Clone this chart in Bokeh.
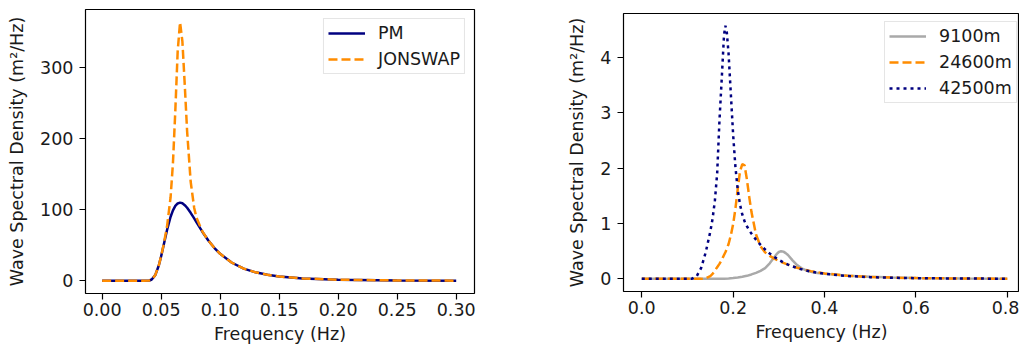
from bokeh.plotting import figure
from bokeh.layouts import row, column
from bokeh.models import Range1d, FixedTicker, PrintfTickFormatter
from bokeh.embed import file_html
from bokeh.resources import INLINE

# ---------------- data ----------------
# Left panel: PM vs JONSWAP spectra
freq_left = [0.0, 0.01, 0.02, 0.03, 0.035, 0.04, 0.042, 0.045, 0.048, 0.05,
             0.052, 0.055, 0.058, 0.06, 0.062, 0.064, 0.066, 0.068, 0.07, 0.072,
             0.075, 0.078, 0.08, 0.085, 0.09, 0.095, 0.1, 0.11, 0.12, 0.13,
             0.14, 0.15, 0.17, 0.2, 0.25, 0.3]
pm_psd = [0, 0, 0, 0, 0, 0.4, 1.8, 8.0, 21.6, 34.6,
          49.3, 71.5, 90.1, 99.2, 105.4, 108.9, 110.0, 109.1, 106.5, 102.8,
          95.7, 87.8, 82.2, 68.8, 56.7, 46.4, 37.9, 25.4, 17.2, 11.9,
          8.4, 6.0, 3.3, 1.5, 0.5, 0.2]
jonswap_psd = [0, 0, 0, 0, 0, 0.4, 1.8, 8.0, 21.6, 34.7,
               49.9, 76.7, 117.6, 165.8, 239.5, 323.0, 364.0, 337.0, 275.9, 210.5,
               139.8, 102.5, 88.5, 69.3, 56.7, 46.4, 37.9, 25.4, 17.2, 11.9,
               8.4, 6.0, 3.3, 1.5, 0.5, 0.2]
left_labels = ["PM", "JONSWAP"]
left_xticks = [0.0, 0.05, 0.10, 0.15, 0.20, 0.25, 0.30]
left_yticks = [0, 100, 200, 300]

# Right panel: fetch-limited JONSWAP spectra
fetch_labels = ["9100m", "24600m", "42500m"]
freq_9100 = [0.0, 0.05, 0.10, 0.15, 0.16, 0.17, 0.18, 0.19, 0.20, 0.21,
             0.22, 0.23, 0.24, 0.25, 0.26, 0.27, 0.28, 0.29, 0.295, 0.30,
             0.305, 0.31, 0.315, 0.32, 0.33, 0.34, 0.35, 0.36, 0.37, 0.38,
             0.40, 0.45, 0.50, 0.55, 0.60, 0.70, 0.80]
psd_9100 = [0, 0, 0, 0, 0, 0.001, 0.003, 0.007, 0.014, 0.024,
            0.037, 0.055, 0.080, 0.108, 0.145, 0.195, 0.280, 0.390, 0.445, 0.485,
            0.500, 0.492, 0.465, 0.430, 0.335, 0.250, 0.190, 0.152, 0.128, 0.112,
            0.091, 0.058, 0.0376, 0.0246, 0.0165, 0.0079, 0.0042]
freq_24600 = [0.0, 0.05, 0.10, 0.13, 0.14, 0.15, 0.155, 0.16, 0.165, 0.17,
              0.175, 0.18, 0.183, 0.186, 0.19, 0.195, 0.20, 0.205, 0.21, 0.215,
              0.22, 0.225, 0.23, 0.235, 0.24, 0.25, 0.26, 0.27, 0.28, 0.29,
              0.30, 0.31, 0.32, 0.33, 0.34, 0.35, 0.37, 0.40, 0.45, 0.50,
              0.55, 0.60, 0.70, 0.80]
psd_24600 = [0, 0, 0, 0, 0.01, 0.05, 0.09, 0.15, 0.21, 0.27,
             0.34, 0.43, 0.48, 0.54, 0.63, 0.79, 0.99, 1.27, 1.62, 1.94,
             2.07, 2.05, 1.80, 1.49, 1.21, 0.80, 0.587, 0.478, 0.414, 0.366,
             0.325, 0.288, 0.256, 0.226, 0.200, 0.178, 0.140, 0.099, 0.057, 0.035,
             0.022, 0.014, 0.0067, 0.0034]
freq_42500 = [0.0, 0.05, 0.10, 0.11, 0.12, 0.13, 0.14, 0.15, 0.155, 0.16,
              0.165, 0.17, 0.175, 0.18, 0.183, 0.186, 0.19, 0.195, 0.20, 0.205,
              0.21, 0.215, 0.22, 0.225, 0.23, 0.235, 0.24, 0.25, 0.26, 0.27,
              0.28, 0.29, 0.30, 0.31, 0.32, 0.33, 0.34, 0.35, 0.37, 0.40,
              0.45, 0.50, 0.55, 0.60, 0.70, 0.80]
psd_42500 = [0, 0, 0, 0.004, 0.046, 0.197, 0.481, 0.854, 1.088, 1.411,
             1.905, 2.85, 3.614, 4.403, 4.57, 4.46, 4.06, 3.327, 2.597, 2.016,
             1.610, 1.340, 1.162, 1.040, 0.951, 0.879, 0.817, 0.708, 0.613, 0.530,
             0.458, 0.396, 0.342, 0.297, 0.258, 0.225, 0.196, 0.172, 0.1325, 0.091,
             0.052, 0.031, 0.0194, 0.0126, 0.0059, 0.003]
right_xticks = [0.0, 0.2, 0.4, 0.6, 0.8]
right_yticks = [0, 1, 2, 3, 4]

x_label = "Frequency (Hz)"
y_label = "Wave Spectral Density (m²/Hz)"

# ---------------- styling ----------------
FONT = "DejaVu Sans"
FS = "17.5px"
TXT = "#1a1a1a"


def style(p, xticks, yticks, xfmt):
    p.outline_line_color = "black"
    p.outline_line_width = 1.2
    p.xgrid.visible = False
    p.ygrid.visible = False
    for ax in (p.xaxis[0], p.yaxis[0]):
        ax.axis_line_color = None
        ax.major_tick_out = 6
        ax.major_tick_in = 0
        ax.major_tick_line_color = "black"
        ax.major_tick_line_width = 1.2
        ax.minor_tick_line_color = None
        ax.major_label_text_font = FONT
        ax.major_label_text_font_size = FS
        ax.major_label_text_color = TXT
        ax.axis_label_text_font = FONT
        ax.axis_label_text_font_size = FS
        ax.axis_label_text_font_style = "normal"
        ax.axis_label_text_color = TXT
    p.xaxis[0].ticker = FixedTicker(ticks=xticks)
    p.xaxis[0].formatter = PrintfTickFormatter(format=xfmt)
    p.yaxis[0].ticker = FixedTicker(ticks=yticks)
    p.xaxis[0].axis_label = x_label
    p.yaxis[0].axis_label = y_label
    p.xaxis[0].major_label_standoff = 3
    p.xaxis[0].axis_label_standoff = 5
    p.yaxis[0].major_label_standoff = 6
    p.yaxis[0].axis_label_standoff = 10


def style_legend(lg):
    lg.label_text_font = FONT
    lg.label_text_font_size = FS
    lg.label_text_color = TXT
    lg.border_line_color = "#cccccc"
    lg.border_line_width = 1
    lg.background_fill_alpha = 0.8
    lg.glyph_width = 37
    lg.glyph_height = 18
    lg.label_height = 18
    lg.label_standoff = 13
    lg.spacing = 6
    lg.padding = 4


# ---------------- left panel ----------------
p1 = figure(width=510, height=347, output_backend="svg", toolbar_location=None,
            title=None,
            x_range=Range1d(-0.0141, 0.3155), y_range=Range1d(-17.9, 382),
            min_border_left=85, min_border_right=36, min_border_top=9,
            min_border_bottom=54)
style(p1, left_xticks, left_yticks, "%.2f")
p1.line(freq_left, pm_psd, line_color="#000080", line_width=2.5,
        legend_label=left_labels[0])
p1.line(freq_left, jonswap_psd, line_color="#ff8c00", line_width=2.5,
        line_dash="9 4", legend_label=left_labels[1])
style_legend(p1.legend[0])
p1.legend[0].location = "top_right"
p1.legend[0].margin = 9

# ---------------- right panel ----------------
p2 = figure(width=509, height=347, output_backend="svg", toolbar_location=None,
            title=None,
            x_range=Range1d(-0.04, 0.8267), y_range=Range1d(-0.228, 4.79),
            min_border_left=113, min_border_right=0, min_border_top=13,
            min_border_bottom=56)
style(p2, right_xticks, right_yticks, "%.1f")
p2.line(freq_9100, psd_9100, line_color="#a9a9a9", line_width=2.5,
        legend_label=fetch_labels[0])
p2.line(freq_24600, psd_24600, line_color="#ff8c00", line_width=2.5,
        line_dash="9 4", legend_label=fetch_labels[1])
p2.line(freq_42500, psd_42500, line_color="#000080", line_width=2.5,
        line_dash="3 4", legend_label=fetch_labels[2])
style_legend(p2.legend[0])
p2.legend[0].location = (261, 188)

layout = row(column(p1), column(p2))
open("out.html", "w").write(file_html(layout, INLINE))
